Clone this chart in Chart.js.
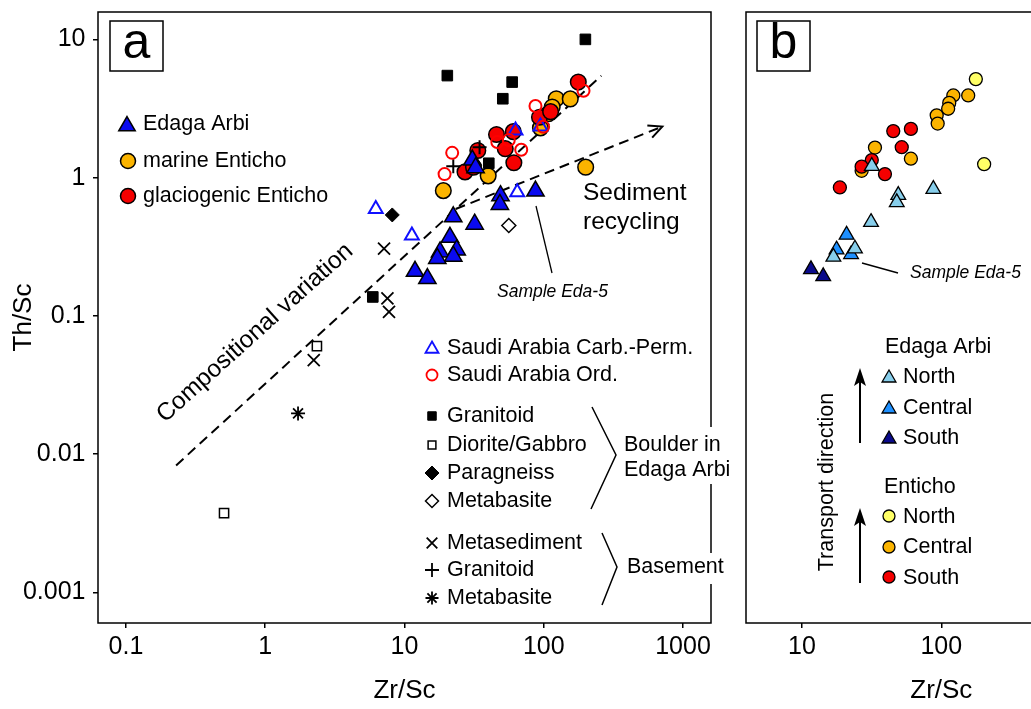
<!DOCTYPE html>
<html>
<head>
<meta charset="utf-8">
<script src="https://cdn.jsdelivr.net/npm/chart.js@4.4.0/dist/chart.umd.min.js"></script>
<style>
html, body { margin: 0; padding: 0; background: #fff; }
body { width: 1031px; height: 709px; overflow: hidden; position: relative; }
#chart-a { position: absolute; left: 0; top: 0; }
#chart-b { position: absolute; left: 730px; top: 0; }
</style>
</head>
<body>
<canvas id="chart-a" width="730" height="709"></canvas>
<canvas id="chart-b" width="420" height="709"></canvas>
<script>
const FONT = '"Liberation Sans", Arial, sans-serif';

// tick labels
const xTicksA = [0.1, 1, 10, 100, 1000];
const xTicksB = [10, 100, 1000];
const yTicks = [0.001, 0.01, 0.1, 1, 10];

// panel a, points as [Zr/Sc, Th/Sc]
const edagaArbi = [[30.7, 1.34], [32.4, 1.18], [87.2, 0.80], [48.9, 0.74], [48.4, 0.64], [22.4, 0.52],
  [31.9, 0.46], [21.2, 0.37], [18.0, 0.29], [23.7, 0.30], [22.4, 0.27], [17.2, 0.26], [11.9, 0.21], [14.6, 0.186]];
const marineEnticho = [[123, 3.72], [155, 3.71], [115, 3.24], [108, 2.9], [94.7, 2.29], [39.9, 1.03], [19.0, 0.805], [200, 1.19]];
const glacioEnticho = [[177, 4.91], [93.2, 2.73], [112, 3.0], [45.8, 2.05], [60.4, 2.15], [52.9, 1.62], [33.6, 1.57],
  [61, 1.28], [27.2, 1.10], [31.3, 1.19]];
const saudiCarbPerm = [[6.22, 0.593], [11.3, 0.381], [64.5, 0.782], [62.7, 2.19], [94.7, 2.34]];
const saudiOrd = [[193, 4.25], [87.2, 3.30], [22.0, 1.51], [19.4, 1.06], [46.4, 1.81], [56.1, 1.87], [68.9, 1.59], [99, 2.33]];
const boulderGranitoid = [[199, 10.0], [20.3, 5.47], [59.3, 4.91], [50.8, 3.72], [40.3, 1.27], [5.92, 0.137]];
const boulderDiorite = [[2.35, 0.0604], [0.506, 0.00374]];
const boulderParagneiss = [[8.17, 0.537]];
const boulderMetabasite = [[56.1, 0.45]];
const basementMetasediment = [[7.13, 0.306], [7.54, 0.134], [7.74, 0.107], [2.23, 0.0479]];
const basementGranitoid = [[34.6, 1.66], [22.4, 1.21]];
const basementMetabasite = [[1.72, 0.0197]];

// panel b
const edagaNorth = [[31.7, 1.21], [87.7, 0.826], [49.1, 0.747], [47.9, 0.662], [31.3, 0.476], [24.0, 0.306], [16.8, 0.267]];
const edagaCentral = [[20.9, 0.385], [17.7, 0.301], [22.5, 0.278]];
const edagaSouth = [[11.6, 0.217], [14.2, 0.193]];
const entichoNorth = [[177, 5.16], [203, 1.25]];
const entichoCentral = [[122, 3.93], [156, 3.93], [114, 3.47], [112, 3.15], [92.7, 2.82], [94.2, 2.46], [33.4, 1.65], [60.5, 1.37], [26.8, 1.12]];
const entichoSouth = [[45.2, 2.17], [60.5, 2.25], [52.0, 1.66], [31.7, 1.34], [26.8, 1.20], [39.4, 1.06], [18.7, 0.849]];

// trend lines (data coordinates)
const compositionalLine = [[0.229, 0.00828], [259, 5.45]];
const recyclingArrow = [[23.3, 0.593], [710, 2.34]];

function pts(arr) { return arr.map(p => ({ x: p[0], y: p[1] })); }

function series(label, data, style, radius, fill, stroke, width) {
  return {
    label: label,
    data: pts(data),
    pointStyle: style,
    pointRadius: radius,
    pointHoverRadius: radius,
    pointBackgroundColor: fill,
    pointBorderColor: stroke,
    pointBorderWidth: width,
    pointHoverBorderWidth: width,
    showLine: false
  };
}

function mark(ctx, style, x, y, r, fill, stroke, lw) {
  ctx.save();
  ctx.fillStyle = fill;
  ctx.strokeStyle = stroke;
  ctx.lineWidth = lw;
  Chart.helpers.drawPoint(ctx, { pointStyle: style, radius: r, borderWidth: lw, rotation: 0 }, x, y);
  ctx.restore();
}

function txt(ctx, s, x, y, size, opts) {
  opts = opts || {};
  ctx.save();
  ctx.font = (opts.style || '') + ' ' + size + 'px ' + FONT;
  ctx.fillStyle = '#000';
  ctx.textAlign = opts.align || 'left';
  ctx.textBaseline = 'middle';
  ctx.translate(x, y);
  if (opts.rot) ctx.rotate(opts.rot);
  ctx.fillText(s, 0, 0);
  ctx.restore();
}

function line(ctx, pts, lw, dash) {
  ctx.save();
  ctx.strokeStyle = '#000';
  ctx.lineWidth = lw;
  ctx.setLineDash(dash || []);
  ctx.beginPath();
  ctx.moveTo(pts[0][0], pts[0][1]);
  for (let i = 1; i < pts.length; i++) ctx.lineTo(pts[i][0], pts[i][1]);
  ctx.stroke();
  ctx.restore();
}

function letterBox(ctx, s, x, y) {
  ctx.save();
  ctx.fillStyle = '#fff';
  ctx.fillRect(x, y, 53, 50);
  ctx.strokeStyle = '#000';
  ctx.lineWidth = 1.5;
  ctx.strokeRect(x, y, 53, 50);
  ctx.restore();
  txt(ctx, s, x + 26.5, y + 23, 50, { align: 'center' });
}

function frame(ctx, ca) {
  ctx.save();
  ctx.strokeStyle = '#000';
  ctx.lineWidth = 1.5;
  ctx.strokeRect(ca.left, ca.top, ca.right - ca.left, ca.bottom - ca.top);
  ctx.restore();
}

function scales(xTicks, xMin, xMax, yWidth, showY) {
  return {
    x: {
      type: 'logarithmic', min: xMin, max: xMax,
      afterBuildTicks: s => { s.ticks = xTicks.map(v => ({ value: v })); },
      afterFit: s => { s.height = 86; s.paddingLeft = 0; s.paddingRight = 0; },
      ticks: { font: { size: 25, family: FONT }, color: '#000', padding: 4.5, maxRotation: 0, autoSkip: false, callback: v => String(v) },
      grid: { display: true, drawOnChartArea: false, drawTicks: true, tickLength: 5, color: '#000', lineWidth: 1.5 },
      border: { display: false },
      title: { display: true, text: 'Zr/Sc', font: { size: 26, family: FONT }, color: '#000', padding: { top: 0, bottom: 3 } }
    },
    y: {
      type: 'logarithmic', min: Math.pow(10, -3.198), max: Math.pow(10, 1.198),
      afterBuildTicks: s => { s.ticks = yTicks.map(v => ({ value: v })); },
      afterFit: s => { s.width = yWidth; s.paddingTop = 0; s.paddingBottom = 0; },
      ticks: { display: showY, font: { size: 25, family: FONT }, color: '#000', padding: 7.5, autoSkip: false, callback: v => String(v) },
      grid: { display: showY, drawOnChartArea: false, drawTicks: true, tickLength: 5, color: '#000', lineWidth: 1.5 },
      border: { display: false },
      title: { display: showY, text: 'Th/Sc', font: { size: 26, family: FONT }, color: '#000', padding: { top: 8, bottom: 0 } }
    }
  };
}

const BLUE = '#0a0af0', ORANGE = '#fbb400', RED = '#f50000';
const NONE = 'rgba(0,0,0,0)';

// Panel a
const panelA = {
  id: 'panelA',
  beforeDatasetsDraw(chart) {
    const { ctx, scales: { x, y } } = chart;
    const px = p => [x.getPixelForValue(p[0]), y.getPixelForValue(p[1])];
    line(ctx, compositionalLine.map(px), 2, [10, 6]);
    const r = recyclingArrow.map(px);
    line(ctx, r, 2, [10, 6]);
    const ang = Math.atan2(r[1][1] - r[0][1], r[1][0] - r[0][0]);
    const tip = r[1];
    line(ctx, [[tip[0] - 15 * Math.cos(ang - 0.45), tip[1] - 15 * Math.sin(ang - 0.45)], tip,
      [tip[0] - 15 * Math.cos(ang + 0.45), tip[1] - 15 * Math.sin(ang + 0.45)]], 2);
    txt(ctx, 'Compositional variation', 255, 333, 24.5, { align: 'center', rot: -42 * Math.PI / 180 });
    txt(ctx, 'Sediment', 583, 193, 24.5);
    txt(ctx, 'recycling', 583, 222, 24.5);
    line(ctx, [[536, 206], [552, 273]], 1.3);
    txt(ctx, 'Sample Eda-5', 497, 292, 17.5, { style: 'italic' });
  },
  afterDraw(chart) {
    const { ctx, chartArea } = chart;
    frame(ctx, chartArea);
    ctx.save();
    ctx.fillStyle = '#fff';
    ctx.fillRect(706, 427, 14, 57);
    ctx.fillRect(706, 553, 14, 31);
    ctx.restore();
    letterBox(ctx, 'a', 110, 21);

    const L = 21.5;
    mark(ctx, 'triangle', 127, 126, 9.5, BLUE, '#000', 1.5);
    txt(ctx, 'Edaga Arbi', 143, 124, L);
    mark(ctx, 'circle', 128, 161, 7.5, ORANGE, '#000', 1.5);
    txt(ctx, 'marine Enticho', 143, 161, L);
    mark(ctx, 'circle', 128, 196, 7.5, RED, '#000', 1.5);
    txt(ctx, 'glaciogenic Enticho', 143, 196, L);

    mark(ctx, 'triangle', 432, 349, 7.5, NONE, '#1010ff', 1.8);
    txt(ctx, 'Saudi Arabia Carb.-Perm.', 447, 348, L);
    mark(ctx, 'circle', 432, 375, 5.5, NONE, '#ff0000', 1.8);
    txt(ctx, 'Saudi Arabia Ord.', 447, 375, L);

    mark(ctx, 'rect', 432, 416, 6, '#000', '#000', 1);
    txt(ctx, 'Granitoid', 447, 416, L);
    mark(ctx, 'rect', 432, 445, 5.5, NONE, '#000', 1.5);
    txt(ctx, 'Diorite/Gabbro', 447, 445, L);
    mark(ctx, 'rectRot', 432, 473, 7, '#000', '#000', 1);
    txt(ctx, 'Paragneiss', 447, 473, L);
    mark(ctx, 'rectRot', 432, 501, 6.5, NONE, '#000', 1.5);
    txt(ctx, 'Metabasite', 447, 501, L);
    line(ctx, [[592, 407], [616, 455], [591, 509]], 1.5);
    txt(ctx, 'Boulder in', 624, 445, L);
    txt(ctx, 'Edaga Arbi', 624, 470, L);

    mark(ctx, 'crossRot', 432, 543, 7.5, NONE, '#000', 1.8);
    txt(ctx, 'Metasediment', 447, 543, L);
    mark(ctx, 'cross', 432, 570, 7, NONE, '#000', 1.8);
    txt(ctx, 'Granitoid', 447, 570, L);
    mark(ctx, 'star', 432, 598, 6.5, NONE, '#000', 1.8);
    txt(ctx, 'Metabasite', 447, 598, L);
    line(ctx, [[602, 533], [617, 567], [602, 605]], 1.5);
    txt(ctx, 'Basement', 627, 567, L);
  }
};

new Chart(document.getElementById('chart-a'), {
  type: 'scatter',
  data: {
    datasets: [
      series('Saudi Arabia Ord.', saudiOrd, 'circle', 6, NONE, '#ff0000', 2),
      series('Saudi Arabia Carb.-Perm.', saudiCarbPerm, 'triangle', 8, NONE, '#1010ff', 2),
      series('Basement Granitoid', basementGranitoid, 'cross', 7, NONE, '#000', 2),
      series('Metasediment', basementMetasediment, 'crossRot', 8.5, NONE, '#000', 1.8),
      series('Basement Metabasite', basementMetabasite, 'star', 7, NONE, '#000', 1.8),
      series('Granitoid', boulderGranitoid, 'rect', 7.5, '#000', '#000', 1),
      series('Diorite/Gabbro', boulderDiorite, 'rect', 6.5, NONE, '#000', 1.5),
      series('Paragneiss', boulderParagneiss, 'rectRot', 7, '#000', '#000', 1),
      series('Metabasite', boulderMetabasite, 'rectRot', 7, NONE, '#000', 1.5),
      series('Edaga Arbi', edagaArbi, 'triangle', 10, BLUE, '#000', 1.5),
      series('glaciogenic Enticho', glacioEnticho, 'circle', 7.8, RED, '#000', 1.5),
      series('marine Enticho', marineEnticho, 'circle', 7.8, ORANGE, '#000', 1.5)
    ]
  },
  options: {
    responsive: false,
    animation: false,
    layout: { padding: { top: 12, right: 19, bottom: 0, left: 0 } },
    scales: scales(xTicksA, Math.pow(10, -1.201), Math.pow(10, 3.201), 98, true),
    plugins: { legend: { display: false }, tooltip: { enabled: false } }
  },
  plugins: [panelA]
});

// Panel b
const panelB = {
  id: 'panelB',
  beforeDatasetsDraw(chart) {
    const { ctx } = chart;
    line(ctx, [[132, 263], [168, 273]], 1.3);
    txt(ctx, 'Sample Eda-5', 180, 273, 17.5, { style: 'italic' });
  },
  afterDraw(chart) {
    const { ctx, chartArea } = chart;
    frame(ctx, chartArea);
    letterBox(ctx, 'b', 27, 21);
    const L = 21.5;
    txt(ctx, 'Edaga Arbi', 155, 347, L);
    mark(ctx, 'triangle', 159, 378, 8, '#87ceeb', '#000', 1.3);
    txt(ctx, 'North', 173, 377, L);
    mark(ctx, 'triangle', 159, 409, 8, '#1e90ff', '#000', 1.3);
    txt(ctx, 'Central', 173, 408, L);
    mark(ctx, 'triangle', 159, 439, 8, '#0a0a8a', '#000', 1.3);
    txt(ctx, 'South', 173, 438, L);
    txt(ctx, 'Enticho', 154, 487, L);
    mark(ctx, 'circle', 159, 516, 6, '#ffff66', '#000', 1.3);
    txt(ctx, 'North', 173, 517, L);
    mark(ctx, 'circle', 159, 547, 6, ORANGE, '#000', 1.3);
    txt(ctx, 'Central', 173, 547, L);
    mark(ctx, 'circle', 159, 577, 6, RED, '#000', 1.3);
    txt(ctx, 'South', 173, 578, L);
    [[443, 368], [583, 508]].forEach(a => {
      line(ctx, [[130, a[0]], [130, a[1] + 10]], 2);
      ctx.save();
      ctx.fillStyle = '#000';
      ctx.beginPath();
      ctx.moveTo(130, a[1]);
      ctx.lineTo(136, a[1] + 18);
      ctx.lineTo(130, a[1] + 14);
      ctx.lineTo(124, a[1] + 18);
      ctx.closePath();
      ctx.fill();
      ctx.restore();
    });
    txt(ctx, 'Transport direction', 97, 482, L, { align: 'center', rot: -Math.PI / 2 });
  }
};

new Chart(document.getElementById('chart-b'), {
  type: 'scatter',
  data: {
    datasets: [
      series('Edaga Arbi North', edagaNorth, 'triangle', 8.5, '#87ceeb', '#000', 1.3),
      series('Edaga Arbi Central', edagaCentral, 'triangle', 8.5, '#1e90ff', '#000', 1.3),
      series('Edaga Arbi South', edagaSouth, 'triangle', 8.5, '#0a0a8a', '#000', 1.3),
      series('Enticho South', entichoSouth, 'circle', 6.5, RED, '#000', 1.3),
      series('Enticho Central', entichoCentral, 'circle', 6.5, ORANGE, '#000', 1.3),
      series('Enticho North', entichoNorth, 'circle', 6.5, '#ffff66', '#000', 1.3)
    ]
  },
  options: {
    responsive: false,
    animation: false,
    layout: { padding: { top: 12, right: 13.4, bottom: 0, left: 0 } },
    scales: scales(xTicksB, Math.pow(10, 0.598), Math.pow(10, 3.402), 16, false),
    plugins: { legend: { display: false }, tooltip: { enabled: false } }
  },
  plugins: [panelB]
});
</script>
</body>
</html>
